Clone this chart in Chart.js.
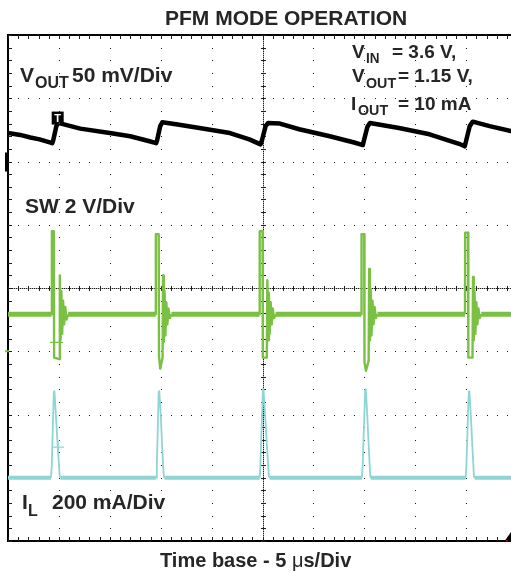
<!DOCTYPE html>
<html><head><meta charset="utf-8">
<script src="https://cdn.jsdelivr.net/npm/chart.js@4.4.1/dist/chart.umd.min.js"></script>
<style>
html,body{margin:0;padding:0;background:#fff;overflow:hidden;}
#wrap{position:relative;width:511px;height:573px;overflow:hidden;}
canvas{position:absolute;left:0;top:0;}
.t{position:absolute;font-family:"Liberation Sans",Arial,Helvetica,sans-serif;font-weight:bold;color:#262626;white-space:pre;line-height:1;}
.sub{transform-origin:0 0;}
</style></head>
<body><div id="wrap">
<canvas id="c" width="511" height="573"></canvas>
<div class="t" style="left:165px;top:7px;font-size:21px">PFM MODE OPERATION</div>
<div class="t" style="left:20px;top:64px;font-size:21px">V</div>
<div class="t sub" style="left:35px;top:75px;font-size:16px">OUT</div>
<div class="t" style="left:72px;top:64px;font-size:21px">50 mV/Div</div>
<div class="t" style="left:352px;top:42px;font-size:19px">V</div>
<div class="t sub" style="left:366px;top:50px;font-size:15px;transform:scaleX(0.9)">IN</div>
<div class="t" style="left:392px;top:42px;font-size:19px">= 3.6 V,</div>
<div class="t" style="left:352px;top:66px;font-size:19px">V</div>
<div class="t sub" style="left:366px;top:75px;font-size:15px;transform:scaleX(0.95)">OUT</div>
<div class="t" style="left:398px;top:66px;font-size:19px">= 1.15 V,</div>
<div class="t" style="left:351px;top:94px;font-size:19px">I</div>
<div class="t sub" style="left:358px;top:102px;font-size:15px;transform:scaleX(0.95)">OUT</div>
<div class="t" style="left:398px;top:94px;font-size:19px">= 10 mA</div>
<div class="t" style="left:25px;top:195px;font-size:21px">SW 2 V/Div</div>
<div class="t" style="left:22px;top:491px;font-size:21px">I</div>
<div class="t sub" style="left:28px;top:503px;font-size:16px">L</div>
<div class="t" style="left:52px;top:491px;font-size:21px">200 mA/Div</div>
<div class="t" style="left:160px;top:550px;font-size:20px">Time base - 5 <span style="font-weight:normal">μ</span>s/Div</div>
</div>
<script>
// ---- tick / grid positions ----
const xGridTicks = [0, 5, 10, 15, 20, 25, 30, 35, 40, 45];   // µs (5 µs/div)
const yGridTicks = [0, 1, 2, 3, 4, 5, 6, 7, 8];               // screen divisions

// ---- VOUT (AC, mV; 50 mV/div) ----
const vTime = [0, 1.2, 2.2, 3.1, 4.35, 4.45, 4.75, 4.95, 5.4, 7.1, 10.0, 12.0, 13.9,
  14.55, 14.65, 14.95, 15.15, 16.5, 18.8, 21.8, 23.7, 24.8, 24.95, 25.3, 25.55,
  26.7, 28.6, 31.6, 34.0, 34.85, 34.95, 35.3, 35.55, 38.4, 41.4, 44.3,
  44.85, 44.95, 45.35, 45.65, 47.3, 49.4];
const vOutMv = [22.5, 21, 19, 17.5, 14.5, 17, 28, 30.5, 29.5, 26, 22.5, 20, 16,
  14.5, 17, 28, 31, 29.5, 26.5, 22.5, 17.5, 13.5, 17, 28, 30.5,
  30, 25.5, 20, 15, 13, 16.5, 27.5, 30.5, 26.5, 21.5, 14,
  12, 15, 28, 31.5, 28, 24];

// ---- SW node (V; 2 V/div) ----
const swTime = [0, 4.29, 4.31, 4.50, 4.53, 5.04, 5.09, 5.16, 5.24, 5.32, 5.41, 5.51, 5.62, 5.75, 5.9,
  14.50, 14.52, 14.80, 14.83, 14.95, 15.18, 15.23, 15.30, 15.38, 15.46, 15.55, 15.65, 15.76, 15.9, 16.05,
  24.70, 24.72, 25.0, 25.03, 25.42, 25.47, 25.54, 25.62, 25.70, 25.8, 25.9, 26.0, 26.13, 26.28,
  34.70, 34.72, 34.98, 35.01, 35.15, 35.42, 35.47, 35.54, 35.62, 35.70, 35.8, 35.9, 36.0, 36.13, 36.28,
  44.88, 44.90, 45.18, 45.21, 45.62, 45.67, 45.74, 45.82, 45.90, 46.0, 46.1, 46.2, 46.33, 46.48, 49.4];
const swVolts = [1.17, 1.17, 3.8, 3.8, -0.2, -0.25, 2.4, 0.35, 1.9, 0.55, 1.6, 0.85, 1.4, 1.0, 1.17,
  1.17, 3.7, 3.7, -0.15, -0.55, -0.2, 2.4, 0.3, 1.9, 0.5, 1.55, 0.85, 1.35, 1.05, 1.17,
  1.17, 3.8, 3.8, -0.2, -0.2, 2.25, 0.35, 1.85, 0.55, 1.55, 0.85, 1.35, 1.05, 1.17,
  1.17, 3.7, 3.7, -0.35, -0.62, -0.3, 2.6, 0.35, 1.95, 0.5, 1.6, 0.85, 1.4, 1.05, 1.17,
  1.17, 3.75, 3.75, -0.2, -0.2, 2.35, 0.35, 1.9, 0.55, 1.55, 0.85, 1.35, 1.05, 1.17, 1.17];
const swBase = 1.17;

// ---- Inductor current (mA; 200 mA/div) ----
const ilTime = [0, 4.22, 4.30, 4.50, 4.56, 4.70, 4.90, 5.08, 5.15,
  14.55, 14.62, 14.80, 14.86, 15.0, 15.15, 15.30, 15.36,
  24.72, 24.79, 25.03, 25.09, 25.25, 25.45, 25.62, 25.68,
  34.76, 34.83, 35.08, 35.14, 35.28, 35.44, 35.58, 35.64,
  44.95, 45.02, 45.25, 45.31, 45.45, 45.62, 45.76, 45.82, 49.4];
const ilMa = [0, 0, 40, 272, 274, 200, 90, 5, 0,
  0, 40, 272, 274, 200, 90, 5, 0,
  0, 40, 278, 280, 200, 90, 5, 0,
  0, 40, 278, 280, 200, 90, 5, 0,
  0, 40, 272, 274, 200, 90, 5, 0, 0];

// cursor markers
const cursorSwTime = [4.76], cursorSwV = [0.28];
const cursorIlTime = [4.91], cursorIlMa = [97];

const pts = (xs, ys) => xs.map((v, i) => ({x: v, y: ys[i]}));

const scopeGrid = {
  id: 'scopeGrid',
  beforeDatasetsDraw(chart) {
    const {ctx, chartArea: a, scales: {x, y}} = chart;
    ctx.save();
    ctx.fillStyle = '#1e1e1e';
    const X = v => Math.round(x.getPixelForValue(v));
    const Y = v => Math.round(y.getPixelForValue(v));
    // dotted horizontal grid lines (dot every 1/5 div)
    for (const d of yGridTicks) {
      if (d === 0 || d === 8 || d === 4) continue;
      const py = Y(d);
      for (let k = 0; k <= 49; k++) ctx.fillRect(X(k), py, 1, 1);
    }
    // dotted vertical grid lines
    for (const t of xGridTicks) {
      if (t === 0 || t === 25) continue;
      const px = X(t);
      for (let k = 0; k <= 40; k++) ctx.fillRect(px, Y(k / 5), 1, 1);
    }
    // centre cross-hair: dense dots + minor tick marks
    const cy = Y(4), cx = X(25);
    ctx.fillStyle = 'rgba(120,120,120,0.6)';
    ctx.fillRect(a.left, cy, a.right - a.left, 1);
    ctx.fillRect(cx, a.top, 1, a.bottom - a.top);
    ctx.fillStyle = '#1e1e1e';
    for (let p = a.left; p < a.right; p += 2) ctx.fillRect(Math.round(p), cy, 1, 1);
    for (let p = a.top; p < a.bottom; p += 2) ctx.fillRect(cx, Math.round(p), 1, 1);
    for (let k = 0; k <= 49; k++) {
      const px = X(k);
      ctx.fillRect(px, cy - 2, 1, 5);
      ctx.fillRect(px, a.top, 1, 4);
      ctx.fillRect(px, a.bottom - 4, 1, 4);
    }
    for (let k = 0; k <= 40; k++) {
      const py = Y(k / 5);
      ctx.fillRect(cx - 2, py, 5, 1);
      ctx.fillRect(a.left, py, 4, 1);
    }
    ctx.restore();
  },
  afterDatasetsDraw(chart) {
    const {ctx, chartArea: a, scales: {x, yV, ySW}} = chart;
    ctx.save();
    // channel reference markers at left edge
    const v0 = yV.getPixelForValue(0);
    ctx.fillStyle = '#000';
    ctx.fillRect(a.left - 3, v0 - 9, 3, 19);
    const s0 = ySW.getPixelForValue(0);
    ctx.fillStyle = '#7ac143';
    ctx.fillRect(a.left - 3, s0 - 1, 4, 2);
    // trigger marker
    const tx = x.getPixelForValue(4.29), ty = yV.getPixelForValue(29.2);
    ctx.fillStyle = '#000';
    ctx.fillRect(tx, ty - 13, 12, 13);
    ctx.fillStyle = '#fff';
    ctx.font = 'bold 11px "Liberation Sans", Arial, sans-serif';
    ctx.textAlign = 'center'; ctx.textBaseline = 'middle';
    ctx.fillText('T', tx + 6, ty - 6);
    ctx.fillStyle = '#d00';
    ctx.fillRect(tx + 7, ty - 2, 1.5, 1.5);
    // trigger-level triangle at right edge
    ctx.fillStyle = '#000';
    ctx.beginPath();
    ctx.moveTo(a.right, a.bottom - 9);
    ctx.lineTo(a.right, a.bottom + 1);
    ctx.lineTo(a.right - 7, a.bottom + 1);
    ctx.closePath(); ctx.fill();
    ctx.fillStyle = '#d00';
    ctx.fillRect(a.right - 5, a.bottom - 1, 1.5, 1.5);
    ctx.restore();
  }
};

new Chart(document.getElementById('c'), {
  type: 'line',
  data: {
    datasets: [
      {label: 'VOUT', data: pts(vTime, vOutMv), yAxisID: 'yV', borderColor: '#000', borderWidth: 4.5,
       pointRadius: 0, tension: 0, borderJoinStyle: 'round', borderCapStyle: 'round'},
      {label: 'SW', data: pts(swTime, swVolts), yAxisID: 'ySW', borderColor: '#7ac143', borderWidth: 5,
       pointRadius: 0, tension: 0, borderJoinStyle: 'round',
       segment: {borderWidth: c => (c.p0.parsed.y === swBase && c.p1.parsed.y === swBase) ? 5 : 2.4}},
      {label: 'IL', data: pts(ilTime, ilMa), yAxisID: 'yI', borderColor: '#8fd5d3', borderWidth: 4,
       pointRadius: 0, tension: 0, borderJoinStyle: 'round',
       segment: {borderWidth: c => (c.p0.parsed.y === 0 && c.p1.parsed.y === 0) ? 4 : 1.8}},
      {label: 'SW cursor', type: 'scatter', data: pts(cursorSwTime, cursorSwV), yAxisID: 'ySW',
       pointStyle: 'line', pointRadius: 6.5, borderColor: '#7ac143', borderWidth: 1.2},
      {label: 'IL cursor', type: 'scatter', data: pts(cursorIlTime, cursorIlMa), yAxisID: 'yI',
       pointStyle: 'cross', pointRadius: 6, borderColor: '#8fd5d3', borderWidth: 1.2}
    ]
  },
  options: {
    responsive: false, animation: false, devicePixelRatio: 1, events: [],
    layout: {autoPadding: false, padding: {left: 8, top: 35, right: 0, bottom: 32}},
    plugins: {legend: {display: false}, tooltip: {enabled: false}, title: {display: false}},
    scales: {
      x: {type: 'linear', min: 0, max: 49.4,
          afterBuildTicks: s => { s.ticks = xGridTicks.map(v => ({value: v})); },
          ticks: {display: false},
          grid: {display: false, drawTicks: false},
          border: {display: true, color: '#000', width: 2}},
      y: {type: 'linear', min: 0, max: 8,
          afterBuildTicks: s => { s.ticks = yGridTicks.map(v => ({value: v})); },
          ticks: {display: false},
          grid: {drawTicks: false, lineWidth: 2,
                 color: c => (c.tick && c.tick.value === 8) ? '#000' : 'rgba(0,0,0,0)'},
          border: {display: true, color: '#000', width: 2}},
      yV: {type: 'linear', display: false, min: -300, max: 100},
      ySW: {type: 'linear', display: false, min: -6, max: 10},
      yI: {type: 'linear', display: false, min: -200, max: 1400}
    }
  },
  plugins: [scopeGrid]
});
</script>
</body></html>
